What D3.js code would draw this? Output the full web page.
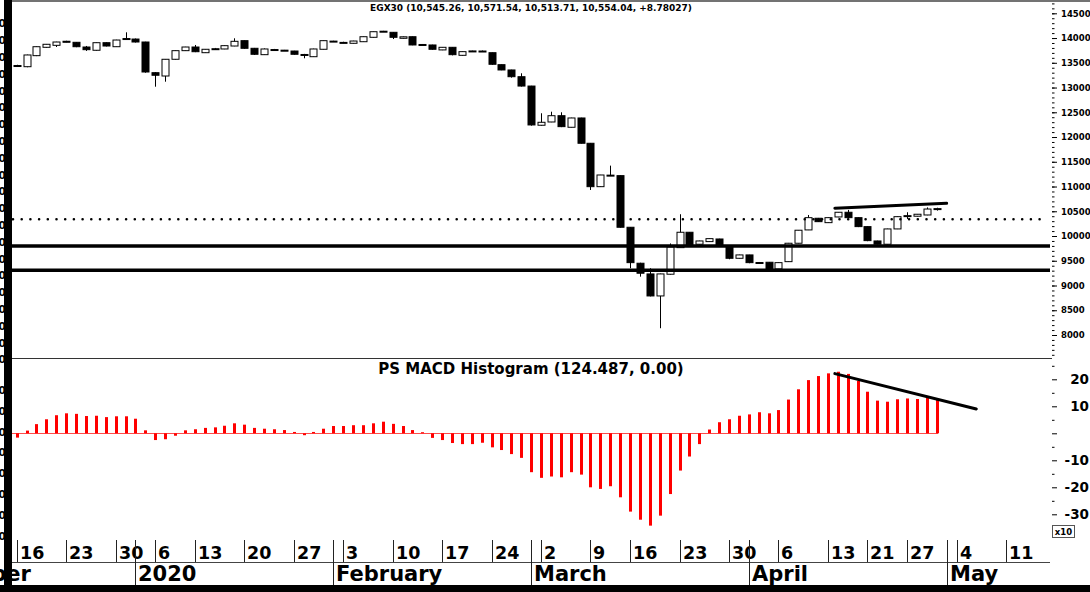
<!DOCTYPE html>
<html>
<head>
<meta charset="utf-8">
<script src="https://cdn.jsdelivr.net/npm/d3@7"></script>
<style>
body { margin: 0; background: #fff; }
svg { display: block; }
text { font-family: "DejaVu Sans", sans-serif; font-weight: bold; fill: #000; }
</style>
</head>
<body>
<div id="chart"></div>
<script>
// EGX30 daily candles, 16 Dec 2019 .. 30 Apr 2020 (one entry per trading day)
var opens  = [13440,13421,13644,13813,13853,13935,13914,13819,13753,13906,13825,13980,13980,13920,13300,13233,13571,13745,13819,13704,
              13775,13779,13839,13947,13793,13664,13765,13755,13738,13668,13623,13773,13935,13910,13894,13926,14015,14130,14116,13995,
              14027,13870,13860,13760,13813,13651,13735,13738,13704,13462,13355,13219,13030,12238,12304,12431,12197,12385,11874,10997,
              11225,11220,10177,9450,9234,8789,9228,9765,10076,9834,9887,9940,9806,9550,9618,9465,9470,9335,9482,9854,
              10123,10359,10270,10385,10480,10371,10190,9900,9834,10143,10410,10400,10425,10545.26];
var highs  = [13460,13665,13830,13880,13925,13945,13920,13840,13910,13912,13965,14116,13990,13925,13310,13575,13750,13822,13860,13778,
              13800,13850,13995,13950,13800,13790,13780,13760,13742,13680,13785,13950,13945,13925,13945,14030,14130,14145,14120,14030,
              14030,13880,13865,13815,13815,13728,13745,13748,13706,13465,13360,13288,13035,12480,12512,12500,12390,12390,11880,11235,
              11422,11225,10180,9460,9349,9240,9850,10440,10080,9905,9950,9945,9810,9622,9620,9475,9475,9465,9860,10120,
              10425,10365,10375,10485,10527,10375,10195,9905,10148,10395,10480,10445,10578,10571.54];
var lows   = [13425,13410,13635,13805,13819,13915,13815,13740,13745,13830,13820,13965,13910,13300,13017,13118,13565,13740,13715,13700,
              13765,13775,13835,13785,13660,13660,13755,13748,13665,13591,13620,13770,13925,13895,13890,13920,14010,14125,13980,13990,
              13855,13860,13765,13755,13650,13645,13730,13730,13460,13350,13200,13020,12230,12230,12300,12200,12195,11870,10930,10990,
              11215,10170,9349,9179,8780,8137,9220,9760,9815,9830,9880,9800,9530,9545,9450,9455,9290,9330,9475,9850,
              10120,10285,10265,10380,10365,10180,9895,9830,9830,10140,10345,10395,10420,10513.71];
var closes = [13445,13658,13825,13874,13920,13920,13825,13765,13906,13839,13960,13990,13920,13314,13248,13571,13745,13819,13724,13773,
              13785,13846,13934,13793,13672,13779,13768,13752,13672,13664,13779,13947,13938,13912,13940,14027,14128,14138,14015,14025,
              13860,13865,13773,13813,13664,13725,13740,13736,13470,13355,13219,13030,12244,12298,12431,12210,12385,11874,10997,11233,
              11230,10177,9462,9248,8789,9234,9780,10076,9820,9900,9947,9806,9550,9618,9462,9462,9315,9462,9854,10117,
              10371,10290,10371,10480,10371,10190,9907,9834,10143,10391,10412,10440,10545.26,10554.04];

// PS MACD histogram, same trading days
var macdHist = [-16,10,34,52,67,74,72,64,65,60,63,63,54,11,-25,-22,-9,11,15,20,
                22,28,37,32,20,17,15,12,5,-7,5,17,27,27,30,30,37,43,35,27,
                12,4,-17,-25,-36,-40,-40,-35,-52,-62,-77,-91,-144,-165,-160,-163,-144,-153,-200,-206,
                -196,-237,-290,-320,-342,-305,-225,-138,-86,-40,14,41,52,65,70,78,74,86,125,163,
                197,212,222,228,220,194,154,121,117,126,129,127,133,124.487];

// trading calendar (Sun-Thu) used for the date axis
var calStart = "2019-12-01";
var calEnd = "2020-05-18";
var firstBarDate = "2019-12-16";
var holidays = ["2020-01-01", "2020-01-07", "2020-03-12", "2020-04-19", "2020-04-20"];

// drawn levels / trend lines (index = trading day from first bar)
var dottedLevel = 10340;
var supportLevels = [9800, 9310];
var priceTrend = [[82.7, 10561], [94.0, 10662]];
var macdTrend = [[82.7, 221], [97.0, 90]];

var priceTicks = d3.range(8000, 14501, 500);
var priceMinor = d3.range(7600, 14701, 100);
var macdTicks = d3.range(-300, 201, 100);
var macdMinor = d3.range(-350, 251, 50);

var titleTop = "EGX30 (10,545.26, 10,571.54, 10,513.71, 10,554.04, +8.78027)";
var titleMacd = "PS MACD Histogram (124.487, 0.00)";

var W = 1090, H = 592;
var svg = d3.select("#chart").append("svg").attr("width", W).attr("height", H);

var x = d3.scaleLinear().domain([0, 100]).range([16.7, 1006]);
var yP = d3.scaleLinear().domain([8000, 14500]).range([335, 13.3]);
var yM = d3.scaleLinear().domain([-300, 200]).range([514.3, 379.3]);
function px(i) { return Math.round(x(i)); }

var defs = svg.append("defs");
defs.append("clipPath").attr("id", "clipP").append("rect").attr("x", 12).attr("y", 2).attr("width", 1038).attr("height", 355);
defs.append("clipPath").attr("id", "clipM").append("rect").attr("x", 12).attr("y", 359).attr("width", 1038).attr("height", 180);

// frame
svg.append("line").attr("x1", 12).attr("x2", W).attr("y1", 1).attr("y2", 1).attr("stroke", "#444").attr("stroke-width", 1.5);
svg.append("line").attr("x1", 12).attr("x2", 1052).attr("y1", 358.5).attr("y2", 358.5).attr("stroke", "#333").attr("stroke-width", 1);

// ---- price panel
var bars = opens.map(function (o, i) { return { i: i, o: o, h: highs[i], l: lows[i], c: closes[i] }; });
var cg = svg.append("g").attr("clip-path", "url(#clipP)");
cg.selectAll("line.wick").data(bars).enter().append("line").attr("class", "wick")
    .attr("x1", function (d) { return px(d.i) + 0.5; })
    .attr("x2", function (d) { return px(d.i) + 0.5; })
    .attr("y1", function (d) { return yP(d.h); })
    .attr("y2", function (d) { return yP(d.l); })
    .attr("stroke", "#000").attr("stroke-width", 1);
cg.selectAll("rect.body").data(bars).enter().append("rect").attr("class", "body")
    .attr("x", function (d) { return px(d.i) - 3; })
    .attr("width", 7)
    .attr("y", function (d) { return yP(Math.max(d.o, d.c)); })
    .attr("height", function (d) { return Math.max(1, Math.abs(yP(d.o) - yP(d.c))); })
    .attr("fill", function (d) { return d.c < d.o ? "#000" : "#fff"; })
    .attr("stroke", "#000").attr("stroke-width", 1);

// levels
cg.append("line").attr("x1", 13).attr("x2", 1045)
    .attr("y1", yP(dottedLevel)).attr("y2", yP(dottedLevel))
    .attr("stroke", "#000").attr("stroke-width", 2.6)
    .attr("stroke-linecap", "round").attr("stroke-dasharray", "0 8.7");
cg.selectAll("line.sup").data(supportLevels).enter().append("line").attr("class", "sup")
    .attr("x1", 12).attr("x2", 1052)
    .attr("y1", function (d) { return yP(d); }).attr("y2", function (d) { return yP(d); })
    .attr("stroke", "#000").attr("stroke-width", 3.5);
cg.append("path")
    .attr("d", d3.line().x(function (d) { return x(d[0]); }).y(function (d) { return yP(d[1]); })(priceTrend))
    .attr("stroke", "#000").attr("stroke-width", 3).attr("stroke-linecap", "round").attr("fill", "none");

svg.append("text").attr("x", 531).attr("y", 11).attr("text-anchor", "middle")
    .style("font-size", "9px").text(titleTop);

// price axis
var gMinor = svg.append("g").attr("transform", "translate(1052,0)")
    .call(d3.axisRight(yP).tickValues(priceMinor).tickSize(2.5).tickFormat(""));
gMinor.select(".domain").remove();
var gPrice = svg.append("g").attr("transform", "translate(1052,0)")
    .call(d3.axisRight(yP).tickValues(priceTicks).tickSize(5).tickPadding(4).tickFormat(d3.format("d")));
gPrice.select(".domain").remove();
gPrice.selectAll("text").style("font-size", "8.5px");

// ---- MACD panel
var mg = svg.append("g").attr("clip-path", "url(#clipM)");
mg.append("line").attr("x1", 12).attr("x2", px(macdHist.length - 1) + 1)
    .attr("y1", Math.round(yM(0)) + 0.5).attr("y2", Math.round(yM(0)) + 0.5)
    .attr("stroke", "#ff0000").attr("stroke-width", 1).attr("opacity", 0.7);
mg.selectAll("rect.hist").data(macdHist).enter().append("rect").attr("class", "hist")
    .attr("x", function (d, i) { return px(i) - 1; })
    .attr("width", 3)
    .attr("y", function (d) { return yM(Math.max(0, d)); })
    .attr("height", function (d) { return Math.abs(yM(d) - yM(0)); })
    .attr("fill", "#ff0000");
mg.append("path")
    .attr("d", d3.line().x(function (d) { return x(d[0]); }).y(function (d) { return yM(d[1]); })(macdTrend))
    .attr("stroke", "#000").attr("stroke-width", 3).attr("stroke-linecap", "round").attr("fill", "none");

svg.append("text").attr("x", 531).attr("y", 373.5).attr("text-anchor", "middle")
    .style("font-size", "15px").text(titleMacd);

var gMMinor = svg.append("g").attr("transform", "translate(1052,0)")
    .call(d3.axisRight(yM).tickValues(macdMinor.filter(function (v) { return v % 100 !== 0; })).tickSize(2.5).tickFormat(""));
gMMinor.select(".domain").remove();
var gMacd = svg.append("g").attr("transform", "translate(1052,0)")
    .call(d3.axisRight(yM).tickValues(macdTicks).tickSize(5)
        .tickFormat(function (v) { return v === 0 ? "" : String(v / 10); }));
gMacd.select(".domain").remove();
gMacd.selectAll("text").attr("x", 37).attr("text-anchor", "end").style("font-size", "13.5px");

var xb = svg.append("g").attr("transform", "translate(1052,525)");
xb.append("rect").attr("x", 0.5).attr("y", 0.5).attr("width", 22).attr("height", 12)
    .attr("fill", "#fff").attr("stroke", "#555").attr("stroke-width", 1);
xb.append("text").attr("x", 11.5).attr("y", 10).attr("text-anchor", "middle").style("font-size", "8.5px").text("x10");

// ---- date axis
var parse = d3.timeParse("%Y-%m-%d"), fmt = d3.timeFormat("%Y-%m-%d");
var days = d3.timeDay.range(parse(calStart), parse(calEnd)).filter(function (d) {
    return d.getDay() !== 5 && d.getDay() !== 6 && holidays.indexOf(fmt(d)) < 0;
});
var offset = days.map(fmt).indexOf(firstBarDate);
var weekTicks = [], monthTicks = [];
days.forEach(function (d, k) {
    var prev = days[k - 1];
    if (!prev || +d3.timeMonday.floor(prev) !== +d3.timeMonday.floor(d)) weekTicks.push({ i: k - offset, d: d });
    if (!prev || prev.getMonth() !== d.getMonth()) monthTicks.push({ i: k - offset, d: d });
});
weekTicks = weekTicks.filter(function (t) { return x(t.i) > 12 && x(t.i) < 1050; });

var ax = svg.append("g");
ax.append("line").attr("x1", 12).attr("x2", 1050).attr("y1", 562.5).attr("y2", 562.5).attr("stroke", "#444");
ax.selectAll("line.wk").data(weekTicks).enter().append("line").attr("class", "wk")
    .attr("x1", function (t) { return px(t.i) + 0.5; }).attr("x2", function (t) { return px(t.i) + 0.5; })
    .attr("y1", 540).attr("y2", 562).attr("stroke", "#222");
ax.selectAll("text.wk").data(weekTicks).enter().append("text").attr("class", "wk")
    .attr("x", function (t) { return px(t.i) + 3; }).attr("y", 559)
    .style("font-size", "17.5px").text(function (t) { return t.d.getDate(); });
ax.selectAll("line.mo").data(monthTicks).enter().append("line").attr("class", "mo")
    .attr("x1", function (t) { return px(t.i) + 0.5; }).attr("x2", function (t) { return px(t.i) + 0.5; })
    .attr("y1", 540).attr("y2", 585).attr("stroke", "#222");
ax.selectAll("text.mo").data(monthTicks).enter().append("text").attr("class", "mo")
    .attr("x", function (t) { return px(t.i) + 3; }).attr("y", 581)
    .style("font-size", "21px")
    .text(function (t) { return t.d.getMonth() === 0 ? d3.timeFormat("%Y")(t.d) : d3.timeFormat("%B")(t.d); });

// cut-off labels of a neighbouring axis at the left edge
var ghostTop = d3.scaleLinear().domain([0, 20]).range([23.3, 359.3]);
var ghostBot = d3.scaleLinear().domain([0, 7]).range([390, 535.5]);
var ghosts = d3.range(0, 21).map(ghostTop).concat(d3.range(0, 8).map(ghostBot));
svg.selectAll("text.ghost").data(ghosts).enter().append("text").attr("class", "ghost")
    .attr("x", 6).attr("y", function (d) { return d + 4; }).attr("text-anchor", "end")
    .style("font-size", "11px").text("0");

// borders
svg.append("rect").attr("x", 4).attr("y", 0).attr("width", 8).attr("height", H).attr("fill", "#000");
svg.append("rect").attr("x", 0).attr("y", 585).attr("width", W).attr("height", 7).attr("fill", "#000");
</script>
</body>
</html>
